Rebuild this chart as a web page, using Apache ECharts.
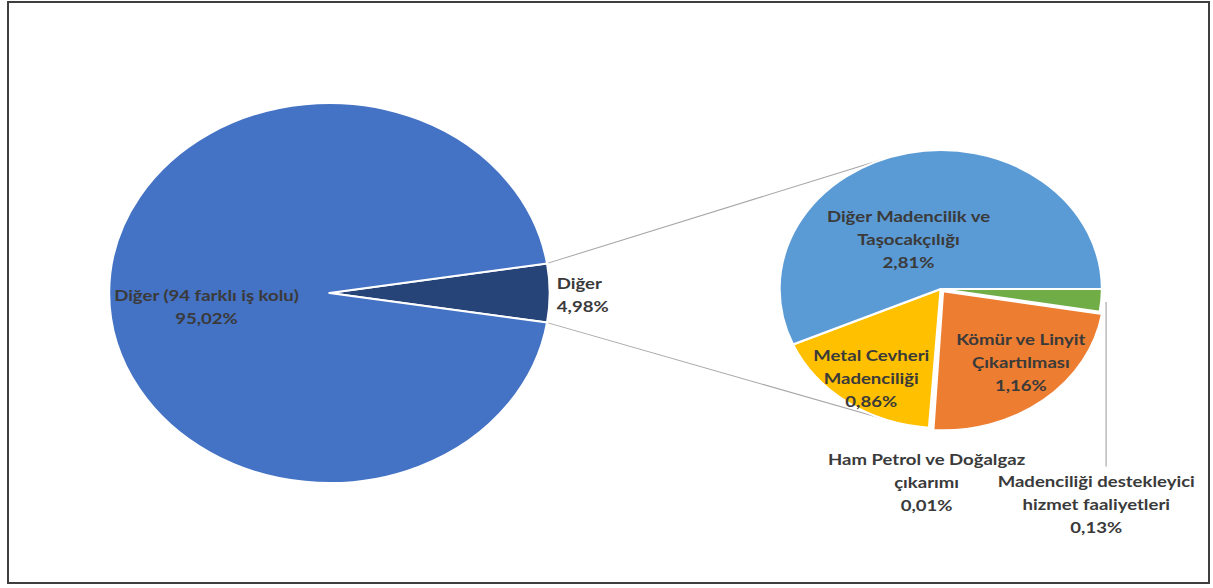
<!DOCTYPE html>
<html>
<head>
<meta charset="utf-8">
<script src="https://cdn.jsdelivr.net/npm/echarts@6/dist/echarts.min.js"></script>
<style>
  html, body { margin: 0; padding: 0; width: 1213px; height: 588px; overflow: hidden; background: #ffffff; }
  #chart { position: absolute; left: 0; top: 0; width: 1046px; height: 588px; transform: scaleX(1.16); transform-origin: 0 0; }
  #frame { position: absolute; left: 7px; top: 1px; width: 1199px; height: 579px; border: 2px solid #3f3f3f; pointer-events: none; }
</style>
</head>
<body>
<div id="chart"></div>
<div id="frame"></div>
<script>
// ---- data ----
const mainNames = ['Diğer', 'Diğer (94 farklı iş kolu)'];
const mainValues = [4.98, 95.02];
const mainColors = ['#264478', '#4472C4'];

const subNames = [
  'Madenciliği destekleyici\nhizmet faaliyetleri',
  'Kömür ve Linyit\nÇıkartılması',
  'Ham Petrol ve Doğalgaz\nçıkarımı',
  'Metal Cevheri\nMadenciliği',
  'Diğer Madencilik ve\nTaşocakçılığı'
];
const subValues = [0.13, 1.16, 0.01, 0.86, 2.81];
const subColors = ['#70AD47', '#ED7D31', '#A5A5A5', '#FFC000', '#5B9BD5'];

// ---- layout / style ----
const LC = [284, 293], LR = 190;
const RC = [811, 289], RR = 139;
const subNudge = [null, [22, 14], null, [-18, 30], [-13, 21]];
const fmt = v => v.toFixed(2).replace('.', ',') + '%';
const labelBase = {
  fontFamily: 'Lato', fontWeight: 'bold', fontSize: 16, lineHeight: 23,
  color: '#3a3a3a', textBorderWidth: 0,
  formatter: p => p.name + '\n' + fmt(p.value)
};

const mainSum = mainValues.reduce((a, b) => a + b, 0);
const half = Math.PI * mainValues[0] / mainSum;
const p1 = [LC[0] + LR * Math.cos(half), LC[1] - LR * Math.sin(half)];
const p2 = [LC[0] + LR * Math.cos(half), LC[1] + LR * Math.sin(half)];
const ca = 111 * Math.PI / 180;
const q1 = [RC[0] + RR * Math.cos(ca), RC[1] - RR * Math.sin(ca)];
const q2 = [RC[0] + RR * Math.cos(ca), RC[1] + RR * Math.sin(ca)];

const chart = echarts.init(document.getElementById('chart'), null, { renderer: 'svg' });
chart.setOption({
  animation: false,
  backgroundColor: 'transparent',
  graphic: [
    { type: 'line', shape: { x1: p1[0], y1: p1[1], x2: q1[0], y2: q1[1] }, style: { stroke: '#a6a6a6', lineWidth: 1 }, silent: true },
    { type: 'line', shape: { x1: p2[0], y1: p2[1], x2: q2[0], y2: q2[1] }, style: { stroke: '#a6a6a6', lineWidth: 1 }, silent: true }
  ],
  series: [
    {
      type: 'pie',
      center: LC,
      radius: LR,
      startAngle: 180 * mainValues[0] / mainSum,
      clockwise: true,
      avoidLabelOverlap: false,
      silent: true,
      emphasis: { disabled: true },
      itemStyle: { borderColor: '#ffffff', borderWidth: 2 },
      label: Object.assign({ position: 'inside' }, labelBase),
      labelLine: { show: false },
      labelLayout: function (p) {
        if (p.dataIndex === 0) {
          const r = p.rect;
          return { x: r.x + r.width + 5, y: r.y + r.height / 2 + 1, align: 'left', verticalAlign: 'middle' };
        }
        return { dx: -8, dy: 13.5 };
      },
      data: mainNames.map((n, i) => ({
        name: n, value: mainValues[i],
        itemStyle: { color: mainColors[i] },
        label: i === 0 ? { position: 'outside' } : {}
      }))
    },
    {
      type: 'pie',
      center: RC,
      radius: RR,
      startAngle: 0,
      clockwise: true,
      avoidLabelOverlap: false,
      silent: true,
      selectedMode: 'multiple',
      selectedOffset: 3,
      emphasis: { disabled: true },
      itemStyle: { borderColor: '#ffffff', borderWidth: 2 },
      label: Object.assign({ position: 'inside' }, labelBase),
      labelLine: { show: false },
      labelLayout: function (p) {
        const i = p.dataIndex;
        if (i === 0 || i === 2) {
          const pt = (p.labelLinePoints && p.labelLinePoints[0]) || [p.rect.x + p.rect.width, p.rect.y + p.rect.height / 2];
          if (i === 0) {
            const lx = pt[0] + 4, top = pt[1] + 1.5, bottom = pt[1] + 166;
            return { x: lx - 8.5, y: bottom + 3, align: 'center', verticalAlign: 'top',
                     labelLinePoints: [[lx, top], [lx, bottom], [lx, bottom]] };
          }
          return { x: pt[0] - 3, y: pt[1] + 20, align: 'center', verticalAlign: 'top',
                   labelLinePoints: [pt, pt, pt] };
        }
        const n = subNudge[i];
        return { dx: n[0], dy: n[1] };
      },
      data: subNames.map((n, i) => {
        const d = { name: n, value: subValues[i], itemStyle: { color: subColors[i] } };
        if (i === 0) {
          d.label = { position: 'outside' };
          d.labelLine = { show: true, length: 10, length2: 0, lineStyle: { color: '#a6a6a6', width: 1 } };
        }
        if (i === 2) {
          d.label = { position: 'outside' };
          d.labelLine = { show: true, length: 10, length2: 0, lineStyle: { opacity: 0 } };
        }
        if (i === 1) d.selected = true;
        return d;
      })
    }
  ]
});
</script>
</body>
</html>
